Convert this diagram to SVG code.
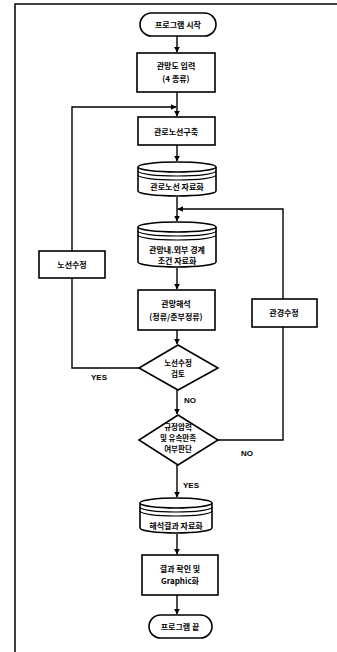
<svg xmlns="http://www.w3.org/2000/svg" width="337" height="652" viewBox="0 0 337 652">
<style>
.s{fill:#fff;stroke:#000;stroke-width:1.6}
.r{fill:none;stroke:#000;stroke-width:1.2}
.c{fill:none;stroke:#000;stroke-width:1.4}
text{font-family:"Noto Sans CJK KR","Noto Sans",sans-serif;font-size:8px;font-weight:bold;fill:#000;text-anchor:middle}
.d{font-size:7.5px}
.l{font-family:"Liberation Sans",sans-serif;font-size:8px}
</style>
<defs>
<marker id="a" viewBox="0 0 10 10" refX="9" refY="5" markerWidth="6" markerHeight="6" orient="auto" markerUnits="userSpaceOnUse"><path d="M0,0L10,5L0,10z" fill="#000"/></marker>
</defs>
<g id="frame"><path d="M15,652V4H337" fill="none" stroke="#000" stroke-width="1.5"/></g>
<g id="connectors" class="c">
<path d="M177,36V52" marker-end="url(#a)"/>
<path d="M177,92V116" marker-end="url(#a)"/>
<path d="M177,145V161" marker-end="url(#a)"/>
<path d="M177,197V221" marker-end="url(#a)"/>
<path d="M177,268V289" marker-end="url(#a)"/>
<path d="M177,330V344" marker-end="url(#a)"/>
<path d="M177,390V414" marker-end="url(#a)"/>
<path d="M177,465V497" marker-end="url(#a)"/>
<path d="M177,534V554" marker-end="url(#a)"/>
<path d="M177,595V614" marker-end="url(#a)"/>
<path d="M139,368H72V107H176" marker-end="url(#a)"/>
<path d="M218,440H283V209H178" marker-end="url(#a)"/>
</g>
<g id="start"><rect class="s" x="140" y="13" width="76" height="23" rx="11.5"/><text x="178" y="28">프로그램 시작</text></g>
<g id="input"><rect class="s" x="137" y="53" width="78" height="39"/><text x="176" y="69">관망도 입력</text><text x="176" y="82">(4 종류)</text></g>
<g id="route"><rect class="s" x="138" y="117" width="77" height="28"/><text x="176" y="135">관로노선구축</text></g>
<g id="routedata"><path class="s" d="M138,167V191A39,5 0 0 0 216,191V167"/><ellipse class="s" cx="177" cy="167" rx="39" ry="5"/><path class="r" d="M138,171A39,5 0 0 0 216,171M138,175A39,5 0 0 0 216,175"/><text x="177" y="190">관로노선 자료화</text></g>
<g id="boundary"><path class="s" d="M138,227V262A39,5 0 0 0 216,262V227"/><ellipse class="s" cx="177" cy="227" rx="39" ry="5"/><path class="r" d="M138,231A39,5 0 0 0 216,231M138,235A39,5 0 0 0 216,235"/><text x="177" y="253">관망내.외부 경계</text><text x="177" y="264">조건 자료화</text></g>
<g id="analysis"><rect class="s" x="138" y="290" width="77" height="40"/><text x="176" y="307">관망해석</text><text x="176" y="320">(정류/준부정류)</text></g>
<g id="check"><path class="s" d="M178,345L218,368L178,390L139,368Z"/><text class="d" x="178" y="366">노선수정</text><text class="d" x="178" y="377">검토</text></g>
<g id="judge"><path class="s" d="M178,415L218,440L178,465L139,440Z"/><text class="d" x="178" y="430">규정압력</text><text class="d" x="178" y="441">및 유속만족</text><text class="d" x="178" y="452">여부판단</text></g>
<g id="result"><path class="s" d="M140,503V528A36,5 0 0 0 212,528V503"/><ellipse class="s" cx="176" cy="503" rx="36" ry="5"/><path class="r" d="M140,507A36,5 0 0 0 212,507M140,511A36,5 0 0 0 212,511"/><text x="176" y="529">해석결과 자료화</text></g>
<g id="graphic"><rect class="s" x="142" y="555" width="76" height="40"/><text x="180" y="572">결과 확인 및</text><text x="180" y="584">Graphic화</text></g>
<g id="end"><rect class="s" x="149" y="615" width="63" height="23" rx="11.5"/><text x="180" y="630">프로그램 끝</text></g>
<g id="reroute"><rect class="s" x="39" y="251" width="66" height="27"/><text x="72" y="268">노선수정</text></g>
<g id="pipe"><rect class="s" x="252" y="299" width="65" height="28"/><text x="284" y="316">관경수정</text></g>
<g id="labels"><text class="l" x="99" y="380">YES</text><text class="l" x="190" y="403">NO</text><text class="l" x="247" y="456">NO</text><text class="l" x="191" y="488">YES</text></g>
</svg>
